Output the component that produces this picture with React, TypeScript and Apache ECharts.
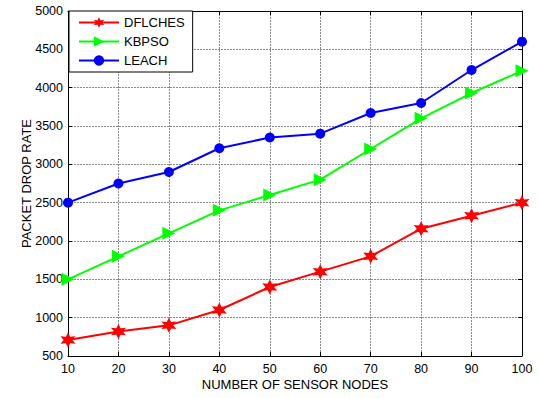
import React, { useEffect, useRef } from "react";
import * as echarts from "echarts";

const xValues = [10, 20, 30, 40, 50, 60, 70, 80, 90, 100];
const dflches = [710, 820, 900, 1100, 1400, 1600, 1800, 2160, 2330, 2500];
const kbpso = [1500, 1800, 2100, 2400, 2600, 2800, 3200, 3600, 3930, 4220];
const leach = [2500, 2750, 2900, 3210, 3350, 3400, 3670, 3800, 4230, 4600];
const seriesNames = ["DFLCHES", "KBPSO", "LEACH"];

const HEXAGRAM =
  "path://M0,-100 L25,-43.3 L86.6,-50 L50,0 L86.6,50 L25,43.3 L0,100 L-25,43.3 L-86.6,50 L-50,0 L-86.6,-50 L-25,-43.3 Z";
const TRI_RIGHT = "path://M0,0 L100,50 L0,100 Z";

const FONT = "'Liberation Sans', Arial, sans-serif";

export default function App() {
  const ref = useRef<HTMLDivElement>(null);
  useEffect(() => {
    if (!ref.current) return;
    const chart = echarts.init(ref.current, undefined, { renderer: "svg" });
    const pair = (arr: number[]) => xValues.map((x, i) => [x, arr[i]]);
    const gridLine = { show: true, lineStyle: { color: "#8a8a8a", type: [2, 1] as any, width: 1 } };
    const fmt = (v: number) => String(v);
    chart.setOption({
      animation: false,
      backgroundColor: "#fff",
      textStyle: { fontFamily: FONT },
      grid: { left: 68, right: 17, top: 11, bottom: 42, containLabel: false },
      legend: {
        left: 69,
        top: 11,
        orient: "vertical",
        itemWidth: 40,
        itemHeight: 13,
        itemGap: 6,
        padding: [5, 8, 5, 9],
        borderColor: "#000",
        borderWidth: 1,
        backgroundColor: "#fff",
        borderRadius: 0,
        textStyle: { fontFamily: FONT, fontSize: 13, color: "#000" },
        data: seriesNames,
      },
      xAxis: [
        {
          type: "value",
          min: 10,
          max: 100,
          interval: 10,
          name: "NUMBER OF SENSOR NODES",
          nameLocation: "middle",
          nameGap: 22,
          nameMoveOverlap: false,
          nameTextStyle: { fontFamily: FONT, fontSize: 13, color: "#000" },
          axisLine: { show: true, onZero: false, lineStyle: { color: "#000", width: 1 } },
          axisTick: { show: true, inside: true, length: 4, lineStyle: { color: "#000" } },
          axisLabel: { fontFamily: FONT, fontSize: 12.5, color: "#000", margin: 6, formatter: fmt },
          splitLine: gridLine,
        },
        {
          type: "value",
          position: "top",
          min: 10,
          max: 100,
          interval: 10,
          axisLine: { show: true, onZero: false, lineStyle: { color: "#000", width: 1 } },
          axisTick: { show: true, inside: true, length: 4, lineStyle: { color: "#000" } },
          axisLabel: { show: false },
          splitLine: { show: false },
        },
      ],
      yAxis: [
        {
          type: "value",
          min: 500,
          max: 5000,
          interval: 500,
          name: "PACKET DROP RATE",
          nameLocation: "middle",
          nameGap: 35,
          nameMoveOverlap: false,
          nameTextStyle: { fontFamily: FONT, fontSize: 13, color: "#000" },
          axisLine: { show: true, onZero: false, lineStyle: { color: "#000", width: 1 } },
          axisTick: { show: true, inside: true, length: 4, lineStyle: { color: "#000" } },
          axisLabel: { fontFamily: FONT, fontSize: 12.5, color: "#000", margin: 5, formatter: fmt },
          splitLine: gridLine,
        },
        {
          type: "value",
          position: "right",
          min: 500,
          max: 5000,
          interval: 500,
          axisLine: { show: true, onZero: false, lineStyle: { color: "#000", width: 1 } },
          axisTick: { show: true, inside: true, length: 4, lineStyle: { color: "#000" } },
          axisLabel: { show: false },
          splitLine: { show: false },
        },
      ],
      series: [
        {
          name: seriesNames[0],
          type: "line",
          data: pair(dflches),
          symbol: HEXAGRAM,
          symbolSize: 15,
          lineStyle: { color: "#ff0000", width: 2 },
          itemStyle: { color: "#ff0000" },
        },
        {
          name: seriesNames[1],
          type: "line",
          data: pair(kbpso),
          symbol: TRI_RIGHT,
          symbolSize: 13,
          lineStyle: { color: "#00ff00", width: 2 },
          itemStyle: { color: "#00ff00" },
        },
        {
          name: seriesNames[2],
          type: "line",
          data: pair(leach),
          symbol: "circle",
          symbolSize: 10,
          lineStyle: { color: "#0000ff", width: 2 },
          itemStyle: { color: "#0000ff" },
        },
      ],
    });
    return () => chart.dispose();
  }, []);
  return <div ref={ref} style={{ width: 539, height: 398, position: "fixed", left: 0, top: 0 }} />;
}
